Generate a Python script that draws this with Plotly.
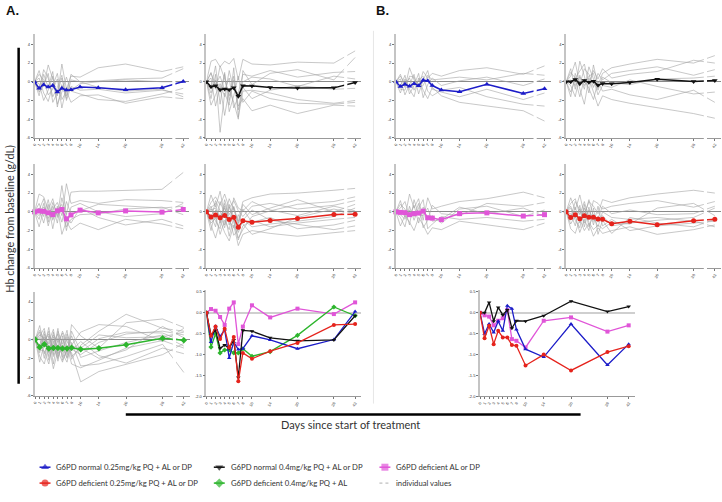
import plotly.graph_objects as go

# ---------------- data ----------------
days = [0, 1, 2, 3, 4, 5, 6, 7, 8, 10, 14, 20, 28, 42]
day_labels = ["0", "1", "2", "3", "4", "5", "6", "7", "8", "10", "14", "20", "28", "42"]
hb_ticks_small = [-6, -4, -2, 0, 2, 4]
hb_ticks_mean = [-2.0, -1.5, -1.0, -0.5, 0.0, 0.5]
hb_ticklabels_mean = ["-2.0", "-1.5", "-1.0", "-0.5", "0.0", "0.5"]

series_names = [
    "G6PD normal 0.25mg/kg PQ + AL or DP",
    "G6PD normal 0.4mg/kg PQ + AL or DP",
    "G6PD deficient AL or DP",
    "G6PD deficient 0.25mg/kg PQ + AL or DP",
    "G6PD deficient 0.4mg/kg PQ + AL",
    "individual values",
]

# Section A means
mean_A_blue = [0, -0.7, -0.32, -0.57, -0.4, -1.08, -0.7, -0.88, -0.86, -0.55, -0.65, -0.86, -0.64, 0.03]
mean_A_black = [0, -0.53, -0.42, -0.85, -0.77, -0.85, -0.65, -1.55, -0.42, -0.44, -0.6, -0.67, -0.65, -0.07]
mean_A_pink = [0, 0.09, 0.05, -0.1, -0.29, 0.1, 0.25, -0.75, -0.33, 0.18, -0.11, 0.1, -0.03, 0.25]
mean_A_red = [0, -0.55, -0.33, -0.63, -0.38, -0.83, -0.58, -1.64, -0.96, -1.1, -0.92, -0.72, -0.29, -0.27]
mean_A_green = [0, -0.82, -0.5, -0.96, -0.89, -0.89, -0.96, -0.96, -0.86, -1.04, -0.93, -0.54, 0.14, -0.07]

# Section B means
mean_B_blue = [0, -0.5, -0.27, -0.47, -0.2, -0.43, 0.17, 0.1, -0.4, -0.87, -1.06, -0.27, -1.25, -0.75]
mean_B_black = [0, 0.0, 0.25, -0.2, 0.13, -0.05, 0.07, -0.37, -0.19, -0.2, -0.07, 0.28, 0.03, 0.15]
mean_B_pink = [0, -0.06, -0.09, -0.3, -0.19, -0.13, 0.07, -0.63, -0.67, -0.83, -0.19, -0.11, -0.45, -0.3]
mean_B_red = [0, -0.61, -0.31, -0.75, -0.43, -0.59, -0.59, -0.77, -0.79, -1.26, -1.0, -1.38, -0.94, -0.8]

# individual values
ind_A_blue = [
    [0, 1.2, -0.5, 1.8, 0.3, -1.5, 1.9, -0.8, 0.6, 0.5, 1.5, 1.9, 1.1, 1.6],
    [0, -1.5, 0.8, -0.6, 1.1, -2.7, -0.3, -1.8, 0.2, 0.0, 0.1, 0.3, 0.4, 1.4],
    [0, 0.4, -1.2, -2.1, -0.4, 0.9, -1.9, -1.0, -2.2, -1.5, -1.4, -2.3, -1.6, -1.8],
    [0, -0.9, 1.3, 0.4, -1.6, -0.6, 0.7, -2.0, -0.5, -0.9, -0.8, -1.2, -0.9, -1.3],
    [0, -0.2, -2.0, -0.9, 0.6, -2.4, -1.1, 0.5, -1.0, -1.3, -1.9, -2.1, -1.3, -0.7],
    [0, 0.8, 0.2, -1.4, -0.8, 0.3, -2.8, -0.6, -0.9, -0.2, 0.0, 0.2, 0.0, 0.0],
    [0, -1.1, -0.4, 0.9, -2.2, -1.2, 0.4, -1.5, 0.8, 0.0, -0.6, -1.0, -0.8, -1.6],
]
ind_A_black = [
    [0, 2.2, 2.4, 1.6, 2.2, 1.9, 2.5, 0.2, 2.4, 1.9, 1.8, 2.1, 2.0, 3.3],
    [0, -1.8, 0.8, -5.4, -1.2, -2.5, 1.5, -3.8, -1.0, -0.9, -1.2, -1.9, -2.3, -2.0],
    [0, 0.4, -2.6, -0.5, -3.6, -0.8, -2.2, -4.0, 1.2, -0.3, 0.9, 1.3, 0.2, 2.6],
    [0, 1.0, -0.8, 1.7, 0.3, -1.5, 0.6, -2.6, -1.8, -3.1, -2.5, -3.4, -2.5, -2.6],
    [0, -2.5, -1.4, -0.2, -1.6, 1.2, -0.9, -1.2, 0.8, 0.6, 1.2, 0.5, 1.0, 1.1],
    [0, -0.6, 1.7, -2.4, 1.0, -3.2, -1.5, 0.6, -2.2, -1.0, -1.8, -2.3, -2.4, -2.2],
    [0, 0.9, -0.3, 0.6, -0.9, 0.4, -2.8, -1.6, 0.0, 0.5, 0.3, -0.5, 0.6, 0.3],
    [0, -1.2, 0.2, -1.0, 0.8, -2.0, 0.2, -3.0, -0.6, -1.8, -0.9, -0.4, -0.8, -0.7],
]
ind_A_pink = [
    [0, 1.9, 1.6, 0.2, 1.4, -0.6, 2.8, -0.3, 2.1, 2.2, 2.2, 2.3, 2.4, 4.2],
    [0, -0.8, 0.9, -1.5, 0.3, 1.0, -0.4, 3.0, 0.9, 1.2, 0.9, 1.3, 1.2, 1.0],
    [0, 0.4, -1.2, 0.8, -1.8, 0.6, -2.4, -1.0, -1.9, -1.2, -1.9, -0.8, -1.3, -1.8],
    [0, -1.6, 0.2, -0.7, 0.6, -1.2, 1.5, -0.5, -1.2, 0.4, -0.6, -1.4, -0.8, -1.5],
    [0, 0.9, -0.5, 1.3, -0.9, 0.4, -1.1, 1.1, -0.2, 0.1, 0.8, 0.6, 0.4, 0.6],
    [0, -0.4, 0.5, -0.2, -0.7, 0.2, 0.8, -1.6, -0.8, -0.3, -0.2, 0.3, 0.5, -0.3],
    [0, 0.2, 1.4, -1.1, 1.0, -0.4, 0.3, -2.0, 0.5, 0.9, 0.0, -0.5, -0.2, 0.9],
]
ind_A_red = [
    [0, 1.8, 0.5, 2.2, -0.4, 1.4, 0.2, -1.0, 1.1, 1.5, 1.9, 2.0, 2.3, 2.5],
    [0, -1.5, -2.8, -0.9, -2.2, -3.1, -1.4, -3.6, -2.4, -2.0, -2.3, -2.6, -2.2, -2.0],
    [0, 0.6, -1.0, -1.8, 0.9, -0.6, -2.5, -1.9, -0.8, -1.6, -1.3, -1.0, -0.5, 0.4],
    [0, -0.9, 1.2, 0.1, -1.4, 0.5, -0.8, -2.8, -1.9, -0.5, 0.1, 0.8, 1.1, 1.6],
    [0, 0.3, -0.4, -2.4, -0.9, -1.9, 0.6, -1.2, 0.3, -1.1, -0.6, -1.8, -1.4, -0.9],
    [0, -2.0, 0.2, -0.6, 0.4, -1.0, -1.7, -0.3, -1.3, -2.4, -1.8, -0.6, 0.3, -0.2],
    [0, 1.0, 1.6, 0.7, 1.9, 0.4, 1.2, 0.1, -0.5, 0.6, 0.9, 0.3, 0.7, 1.2],
    [0, -0.4, -1.6, 1.1, -0.2, -2.6, -0.6, -2.2, -0.9, 0.2, -0.9, -1.3, -1.9, -1.5],
    [0, 0.5, 0.9, -1.2, 1.3, -0.3, 0.5, -1.5, 0.8, -0.3, 0.4, 1.3, 0.0, 0.8],
    [0, -1.2, -0.7, -0.3, -1.7, 0.8, -1.1, -3.0, -1.5, -0.9, -1.6, -1.2, -0.8, -0.6],
    [0, 0.2, 0.4, -0.9, 0.6, -1.4, 1.5, 0.4, 0.1, 1.1, 0.2, -0.4, 0.6, 0.1],
]
ind_A_green = [
    [0, 1.5, -0.8, 1.3, -1.6, 0.9, -0.5, 1.0, -2.1, -0.6, 0.9, 2.7, 1.2, 0.9],
    [0, -1.8, -2.6, -0.6, -3.1, -1.2, -2.4, -0.9, -1.4, -4.5, -3.4, -2.6, -1.6, -0.4],
    [0, 0.4, 1.2, -1.4, 0.8, -2.3, 0.4, -1.6, 1.6, 0.4, -0.9, 1.8, 2.2, 1.3],
    [0, -0.9, 0.3, -2.2, -0.4, 0.6, -1.5, -2.4, -0.3, -2.8, -2.6, -1.8, -0.5, -3.5],
    [0, -2.4, -0.4, 0.9, -1.8, -0.7, 0.9, -0.2, -1.0, -1.6, -0.3, 0.6, 0.9, 0.5],
    [0, 0.8, -1.5, -0.3, 1.1, -1.5, -1.0, 0.6, -0.6, 0.8, 1.6, 1.4, -0.2, 1.2],
    [0, -1.4, 0.6, -1.0, -0.8, -2.0, 0.1, -1.3, 0.4, -1.9, -1.2, -0.3, 0.5, -0.7],
    [0, 0.2, -2.0, 0.4, -2.6, 0.2, -1.9, 0.3, -1.8, -0.9, -2.0, -1.1, 1.4, 0.2],
    [0, -0.6, 0.9, -1.8, 0.3, -0.9, -0.6, -1.9, 0.9, -1.3, 0.1, 0.8, 0.7, -0.2],
    [0, 1.0, -0.2, 0.6, -1.2, 1.2, -2.2, -1.1, -1.2, -0.2, -1.7, -2.5, -0.9, -1.5],
    [0, -1.1, -1.2, -2.6, -0.1, -1.8, -0.8, -2.0, -0.7, -0.9, 0.5, 0.2, 0.3, 0.8],
    [0, 0.5, 0.1, -0.5, 0.5, -0.3, 0.7, -0.7, -2.6, -3.0, -2.2, -0.9, -0.1, -0.9],
]
ind_B_blue = [
    [0, 0.8, -0.6, 1.5, 0.2, -0.5, 1.1, 0.4, 0.9, 0.6, 1.2, 1.5, 0.8, 1.7],
    [0, -1.2, 0.3, -0.8, -1.6, 0.4, -0.9, -1.8, -0.6, -1.5, -2.2, -2.6, -3.1, -4.2],
    [0, 0.3, -1.4, -0.2, 0.8, -1.3, 0.2, 1.2, -0.8, -1.1, -1.6, -0.8, -1.9, -1.2],
    [0, -0.5, 0.7, -1.3, -0.4, 0.9, -1.7, -0.3, 0.4, -0.4, 0.1, 0.5, -0.4, 0.3],
    [0, 0.6, -0.2, 0.4, -0.9, 0.2, 0.6, -1.0, -1.5, -0.9, -0.6, -1.6, -2.4, -2.6],
    [0, -0.8, -0.9, 0.6, 0.5, -0.6, -0.4, 0.7, 0.2, 0.3, 0.5, 0.2, 0.9, 0.7],
]
ind_B_black = [
    [0, 1.4, -0.8, 2.2, 0.6, -1.2, 1.8, -0.4, 0.9, 1.5, 1.9, 2.4, 2.0, 2.8],
    [0, -1.6, 0.9, -0.9, -2.4, 0.4, -1.0, -2.6, -1.5, -1.9, -2.3, -2.8, -3.4, -3.9],
    [0, 0.6, 2.1, -0.3, 1.4, 0.8, -0.6, 0.9, 0.2, 0.9, 1.2, 1.6, 0.7, 1.3],
    [0, -0.4, -1.6, 0.7, -0.8, 1.6, 0.3, -1.4, -0.4, -0.6, 0.2, -0.5, -1.3, -1.1],
    [0, 1.0, 0.4, 1.2, 1.9, -0.2, 1.2, 0.3, 1.4, 0.4, 0.8, 1.1, 2.3, 2.0],
    [0, -1.1, 0.2, -1.6, 0.3, -0.7, -1.9, 0.0, -1.0, -0.8, -1.4, -1.9, -0.9, -2.2],
    [0, 0.2, -0.4, 0.5, -0.4, 0.6, 0.9, -0.9, 0.5, -0.1, -0.3, 0.3, 0.4, 0.6],
]
ind_B_pink = [
    [0, 1.2, -0.6, 1.9, 0.4, 1.4, -0.9, 1.5, 0.3, 0.6, 1.1, 1.4, 2.1, 1.5],
    [0, -1.5, -0.4, -1.1, -2.0, -0.6, -1.4, -2.4, -1.7, -1.9, -1.0, -1.4, -1.9, -1.2],
    [0, 0.4, 1.1, -0.5, 0.7, -1.2, 0.5, -0.8, -0.4, -1.2, 0.3, 0.6, -0.5, 0.2],
    [0, -0.6, -1.6, 0.6, -0.9, 0.4, 1.3, -1.8, -1.3, -0.5, -0.8, -0.6, -1.0, -0.8],
    [0, 0.8, 0.3, -1.4, 1.3, -0.3, -0.4, 0.4, -1.0, -0.8, 0.5, -0.2, 0.4, -0.5],
    [0, -0.3, -0.8, 0.2, -0.5, 0.9, -1.7, -0.9, 0.7, -0.2, -0.4, 0.9, 0.6, 1.0],
]
ind_B_red = [
    [0, 1.5, 0.2, 1.8, -0.3, 1.1, 0.6, -0.2, 1.3, 1.0, 1.5, 1.9, 2.3, 2.0],
    [0, -1.8, -2.3, -0.8, -2.0, -1.2, -2.6, -1.7, -2.3, -2.0, -1.6, -2.4, -1.9, -1.4],
    [0, 0.4, -0.9, -1.7, 0.8, -1.6, -0.3, -1.1, -0.4, -1.5, -1.2, -0.9, -0.6, 0.4],
    [0, -0.6, 1.1, 0.2, -1.2, 0.5, -1.4, 0.6, -1.5, -0.8, -2.0, -1.5, -1.2, -1.0],
    [0, -1.3, -0.4, -2.2, -0.8, -2.0, 0.4, -2.4, -0.9, -2.3, -0.6, -1.2, -1.6, -0.8],
    [0, 0.9, 1.4, -0.3, 1.1, -0.7, 1.2, 0.9, 0.3, 0.6, 0.9, 1.2, 0.5, 1.1],
    [0, -0.2, -1.5, 0.7, -1.6, 0.2, -1.0, -0.7, 0.6, -0.2, 0.2, -0.3, -0.2, 0.6],
    [0, -0.9, 0.5, -1.2, 0.4, -1.1, -1.9, -1.4, -1.8, -1.1, -1.3, 0.4, 0.9, -0.4],
    [0, 0.6, -0.6, 0.3, -0.5, 1.3, -0.5, -1.6, 0.0, -0.6, -0.8, -0.6, -1.0, -1.6],
]

# ---------------- styles ----------------
W, H = 722, 502
COL = {"blue": "#1c1cc8", "black": "#111111", "pink": "#e055d8", "red": "#e5231c", "green": "#2db52d"}
SYM = {"blue": "triangle-up", "black": "triangle-down", "pink": "square", "red": "circle", "green": "diamond"}
NAME = {"blue": series_names[0], "black": series_names[1], "pink": series_names[2],
        "red": series_names[3], "green": series_names[4]}
GRAY = "#a2a2a2"
TXT = "#333333"
FONT = "Lato"


def axis_pos(d):
    # broken axis: values after day 28 are compressed
    return d if d <= 28 else 28 + (d - 28) / 3.0


xpos = [axis_pos(d) for d in days]
XR = [0, 34]
PXU = 4.57
PW = (XR[1] - XR[0]) * PXU


def xdom(x0):
    return [x0 / W, (x0 + PW) / W]


def ydom(top, bottom):
    return [1 - bottom / H, 1 - top / H]


ROW1 = (33.3, 137.7)
ROW2 = (164.0, 268.7)
ROW3 = (292.5, 397.3)
ROWM = (290.6, 397.7)

panels = [
    dict(x0=31.7, row=ROW1, kind="small", means=[("blue", mean_A_blue)], ind=ind_A_blue),
    dict(x0=204.3, row=ROW1, kind="small", means=[("black", mean_A_black)], ind=ind_A_black),
    dict(x0=31.7, row=ROW2, kind="small", means=[("pink", mean_A_pink)], ind=ind_A_pink),
    dict(x0=204.3, row=ROW2, kind="small", means=[("red", mean_A_red)], ind=ind_A_red),
    dict(x0=32.3, row=ROW3, kind="small", means=[("green", mean_A_green)], ind=ind_A_green),
    dict(x0=204.3, row=ROWM, kind="mean",
         means=[("pink", mean_A_pink), ("green", mean_A_green), ("blue", mean_A_blue),
                ("black", mean_A_black), ("red", mean_A_red)], ind=[]),
    dict(x0=394.5, row=ROW1, kind="small", means=[("blue", mean_B_blue)], ind=ind_B_blue),
    dict(x0=565.5, row=ROW1, kind="small", means=[("black", mean_B_black)], ind=ind_B_black),
    dict(x0=394.5, row=ROW2, kind="small", means=[("pink", mean_B_pink)], ind=ind_B_pink),
    dict(x0=565.5, row=ROW2, kind="small", means=[("red", mean_B_red)], ind=ind_B_red),
    dict(x0=479.0, row=ROWM, kind="mean",
         means=[("pink", mean_B_pink), ("blue", mean_B_blue), ("black", mean_B_black),
                ("red", mean_B_red)], ind=[]),
]

fig = go.Figure()
layout_axes = {}
shapes = []

for i, p in enumerate(panels, start=1):
    xa = "x" if i == 1 else f"x{i}"
    ya = "y" if i == 1 else f"y{i}"
    xkey = "xaxis" if i == 1 else f"xaxis{i}"
    ykey = "yaxis" if i == 1 else f"yaxis{i}"
    small = p["kind"] == "small"

    for line in p["ind"]:
        fig.add_trace(go.Scatter(x=xpos, y=line, xaxis=xa, yaxis=ya, mode="lines",
                                 line=dict(color=GRAY, width=0.6), showlegend=False,
                                 hoverinfo="skip"))
    for key, vals in p["means"]:
        fig.add_trace(go.Scatter(
            x=xpos, y=vals, xaxis=xa, yaxis=ya, mode="lines+markers", name=NAME[key],
            line=dict(color=COL[key], width=1.5 if small else 1.3),
            marker=dict(symbol=SYM[key], color=COL[key], size=5 if small else 4,
                        line=dict(width=0)),
            cliponaxis=False, showlegend=False))

    layout_axes[xkey] = dict(
        domain=xdom(p["x0"]), anchor=ya, range=XR, tickmode="array",
        tickvals=xpos, ticktext=day_labels, tickangle=-60,
        tickfont=dict(size=4, color=TXT, family="Liberation Sans"),
        ticks="outside", ticklen=2, tickwidth=0.6, tickcolor="#777",
        showline=True, linecolor="#999", linewidth=0.8, showgrid=False, zeroline=False)
    if small:
        yr, ytv, ytt = [-6, 5.1], hb_ticks_small, [str(v) for v in hb_ticks_small]
        zc, zw = "#8a8a8a", 0.9
    else:
        yr, ytv, ytt = [-2.0, 0.55], hb_ticks_mean, hb_ticklabels_mean
        zc, zw = "#cfcfcf", 1.5
    layout_axes[ykey] = dict(
        domain=ydom(*p["row"]), anchor=xa, range=yr, tickmode="array",
        tickvals=ytv, ticktext=ytt,
        tickfont=dict(size=4, color=TXT, family="Liberation Sans"),
        ticks="outside", ticklen=2, tickwidth=0.6, tickcolor="#777",
        showline=True, linecolor="#c4c4c4", linewidth=1.6, showgrid=False,
        zeroline=True, zerolinecolor=zc, zerolinewidth=zw)
    if small:
        shapes.append(dict(type="rect", xref=xa, yref=f"{ya} domain",
                           x0=30.25, x1=30.95, y0=-0.02, y1=1.0,
                           fillcolor="white", line=dict(width=0), layer="above"))

# legend overlay axes in pixel coordinates
n = len(panels) + 1
lx, ly = f"x{n}", f"y{n}"
layout_axes[f"xaxis{n}"] = dict(domain=[0, 1], anchor=ly, range=[0, W], visible=False, fixedrange=True)
layout_axes[f"yaxis{n}"] = dict(domain=[0, 1], anchor=lx, range=[H, 0], visible=False, fixedrange=True)

legend_items = [
    ("blue", 36.7, 469), ("black", 211.7, 469), ("pink", 378.0, 469),
    ("red", 36.7, 485), ("green", 211.7, 485), ("gray", 378.0, 485),
]
legend_text = dict(zip(["blue", "black", "pink", "red", "green", "gray"], series_names))
annotations = []
for key, x0, y in legend_items:
    if key == "gray":
        fig.add_trace(go.Scatter(x=[x0, x0 + 10], y=[y, y], xaxis=lx, yaxis=ly, mode="lines",
                                 line=dict(color="#9a9a9a", width=0.8, dash="dot"),
                                 showlegend=False, hoverinfo="skip"))
    else:
        fig.add_trace(go.Scatter(x=[x0, x0 + 5.5, x0 + 11], y=[y, y, y], xaxis=lx, yaxis=ly,
                                 mode="lines+markers",
                                 line=dict(color=COL[key], width=1.5),
                                 marker=dict(symbol=SYM[key], color=COL[key], size=[0, 7, 0],
                                             line=dict(width=0)),
                                 showlegend=False, hoverinfo="skip"))
    annotations.append(dict(x=x0 + 15.0, y=y, xref=lx, yref=ly, text=legend_text[key],
                            showarrow=False, xanchor="left", yanchor="middle",
                            font=dict(size=7.7, color=TXT, family=FONT)))

annotations += [
    dict(x=1.5, y=9.5, xref=lx, yref=ly, text="<b>A.</b>", showarrow=False, xanchor="left",
         yanchor="middle", font=dict(size=13, color="#111", family="Liberation Sans")),
    dict(x=373, y=9.5, xref=lx, yref=ly, text="<b>B.</b>", showarrow=False, xanchor="left",
         yanchor="middle", font=dict(size=13, color="#111", family="Liberation Sans")),
    dict(x=7, y=219, xref=lx, yref=ly, text="Hb change from baseline (g/dL)", showarrow=False,
         textangle=-90, xanchor="center", yanchor="middle",
         font=dict(size=10.8, color=TXT, family=FONT)),
    dict(x=349, y=426, xref=lx, yref=ly, text="Days since start of treatment", showarrow=False,
         xanchor="center", yanchor="middle", font=dict(size=11, color=TXT, family=FONT)),
]

shapes += [
    dict(type="line", xref="paper", yref="paper", x0=15.7 / W, x1=15.7 / W,
         y0=1 - 47 / H, y1=1 - 385 / H, line=dict(color="black", width=2.5)),
    dict(type="line", xref="paper", yref="paper", x0=123.3 / W, x1=580 / W,
         y0=1 - 416 / H, y1=1 - 416 / H, line=dict(color="black", width=2.5)),
    dict(type="line", xref="paper", yref="paper", x0=372 / W, x1=372 / W,
         y0=1 - 30 / H, y1=1 - 405 / H, line=dict(color="#e6e6e6", width=1)),
]

fig.update_layout(
    width=W, height=H, margin=dict(l=0, r=0, t=0, b=0),
    paper_bgcolor="white", plot_bgcolor="rgba(0,0,0,0)",
    showlegend=False, annotations=annotations, shapes=shapes,
    **layout_axes,
)

fig.write_html("out.html", config={"displayModeBar": False},
               post_script="document.body.style.margin='0';document.body.style.overflow='hidden';")
